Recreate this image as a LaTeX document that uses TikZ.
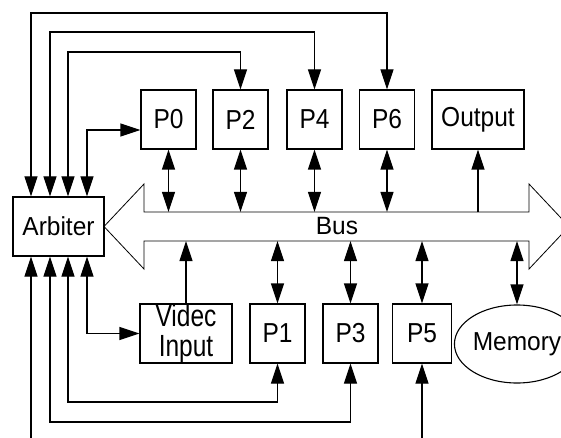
\documentclass[tikz,border=0pt]{standalone}
\usepackage{fontspec}
\usepackage{graphicx}
\setmainfont{Liberation Sans}
\usetikzlibrary{arrows.meta,shapes.geometric}
% slightly tall lettering used in all labels
\newcommand\talltext[2][1.12]{\scalebox{1}[#1]{#2}}

\begin{document}
\begin{tikzpicture}[x=1pt,y=-1pt,line width=1.1pt,
  labelfont/.style={font=\fontsize{24.5}{30}\selectfont},
  box/.style={draw,rectangle,inner sep=0pt,labelfont},
  pbox/.style={box,minimum width=55pt,minimum height=59pt},
  wbox/.style={box,minimum width=92pt,minimum height=59pt},
  tip/.tip={Triangle[length=20pt,width=13pt]},
  link/.style={-tip},
  dlink/.style={tip-tip}]

\useasboundingbox (0,0) rectangle (561,438);
\clip (0,0) rectangle (561,438);

% bus: a wide double-headed arrow
\draw[line width=0.8pt] (104,226.5) -- (144,184) -- (144,212) -- (529,212)
  -- (529,184) -- (569,226.5) -- (529,269) -- (529,241) -- (144,241)
  -- (144,269) -- cycle;
\coordinate (busN) at (0,212);
\coordinate (busS) at (0,241);
\node[labelfont] (buslabel) at (337,226.5) {\talltext[1.02]{Bus}};

% units
\node[box,minimum width=91pt,minimum height=59pt] (arb) at (58.5,226.5) {\talltext[1.06]{Arbiter}};
\node[pbox] (P0) at (168.5,119.5) {\talltext{P0}};
\node[pbox] (P2) at (240.5,119.5) {\talltext{P2}};
\node[pbox] (P4) at (314.5,119.5) {\talltext{P4}};
\node[pbox] (P6) at (387,119.5) {\talltext{P6}};
\node[wbox] (out) at (478,119.5) {\talltext{Output}};

\node[wbox,align=center] (vin) at (186,333.5) {\talltext[1.25]{Videc}\\\talltext[1.25]{Input}};
\node[pbox] (P1) at (277.5,333.5) {\talltext{P1}};
\node[pbox] (P3) at (350.5,333.5) {\talltext{P3}};
\node[pbox,minimum width=59pt] (P5) at (422,333.5) {\talltext{P5}};
\node[draw,ellipse,inner sep=0pt,minimum width=108pt,minimum height=78pt,labelfont]
  (mem) at (517,344) {\talltext[1.06]{Memory}};

% routing tracks of the arbiter lines
\coordinate (r1) at (31,13);
\coordinate (r2) at (50,32);
\coordinate (r3) at (68,52);
\coordinate (r4) at (87,130);
\coordinate (s1) at (31,450);
\coordinate (s2) at (50,422);
\coordinate (s3) at (68,402);
\coordinate (s4) at (87,334);
\coordinate (p5in) at (422,450);

% arbiter lines, upper side
\draw[dlink] (arb.north -| r1) |- (P6.north |- r1) -- (P6.north);
\draw[dlink] (arb.north -| r2) |- (P4.north |- r2) -- (P4.north);
\draw[dlink] (arb.north -| r3) |- (P2.north |- r3) -- (P2.north);
\draw[dlink] (arb.north -| r4) |- (P0.west |- r4);

% arbiter lines, lower side
\draw[link] (s1) -- (arb.south -| s1);
\draw[dlink] (arb.south -| s2) |- (P3.south |- s2) -- (P3.south);
\draw[dlink] (arb.south -| s3) |- (P1.south |- s3) -- (P1.south);
\draw[dlink] (arb.south -| s4) |- (vin.west);
\draw[link] (p5in) -- (P5.south);

% bus taps
\draw[dlink] (P0.south) -- (P0.south |- busN);
\draw[dlink] (P2.south) -- (P2.south |- busN);
\draw[dlink] (P4.south) -- (P4.south |- busN);
\draw[dlink] (P6.south) -- (P6.south |- busN);
\draw[link] (out.south |- busN) -- (out.south);
\draw[link] (vin.north) -- (vin.north |- busS);
\draw[dlink] (P1.north |- busS) -- (P1.north);
\draw[dlink] (P3.north |- busS) -- (P3.north);
\draw[dlink] (P5.north |- busS) -- (P5.north);
\draw[dlink] (mem.north |- busS) -- (mem.north);
\end{tikzpicture}
\end{document}
